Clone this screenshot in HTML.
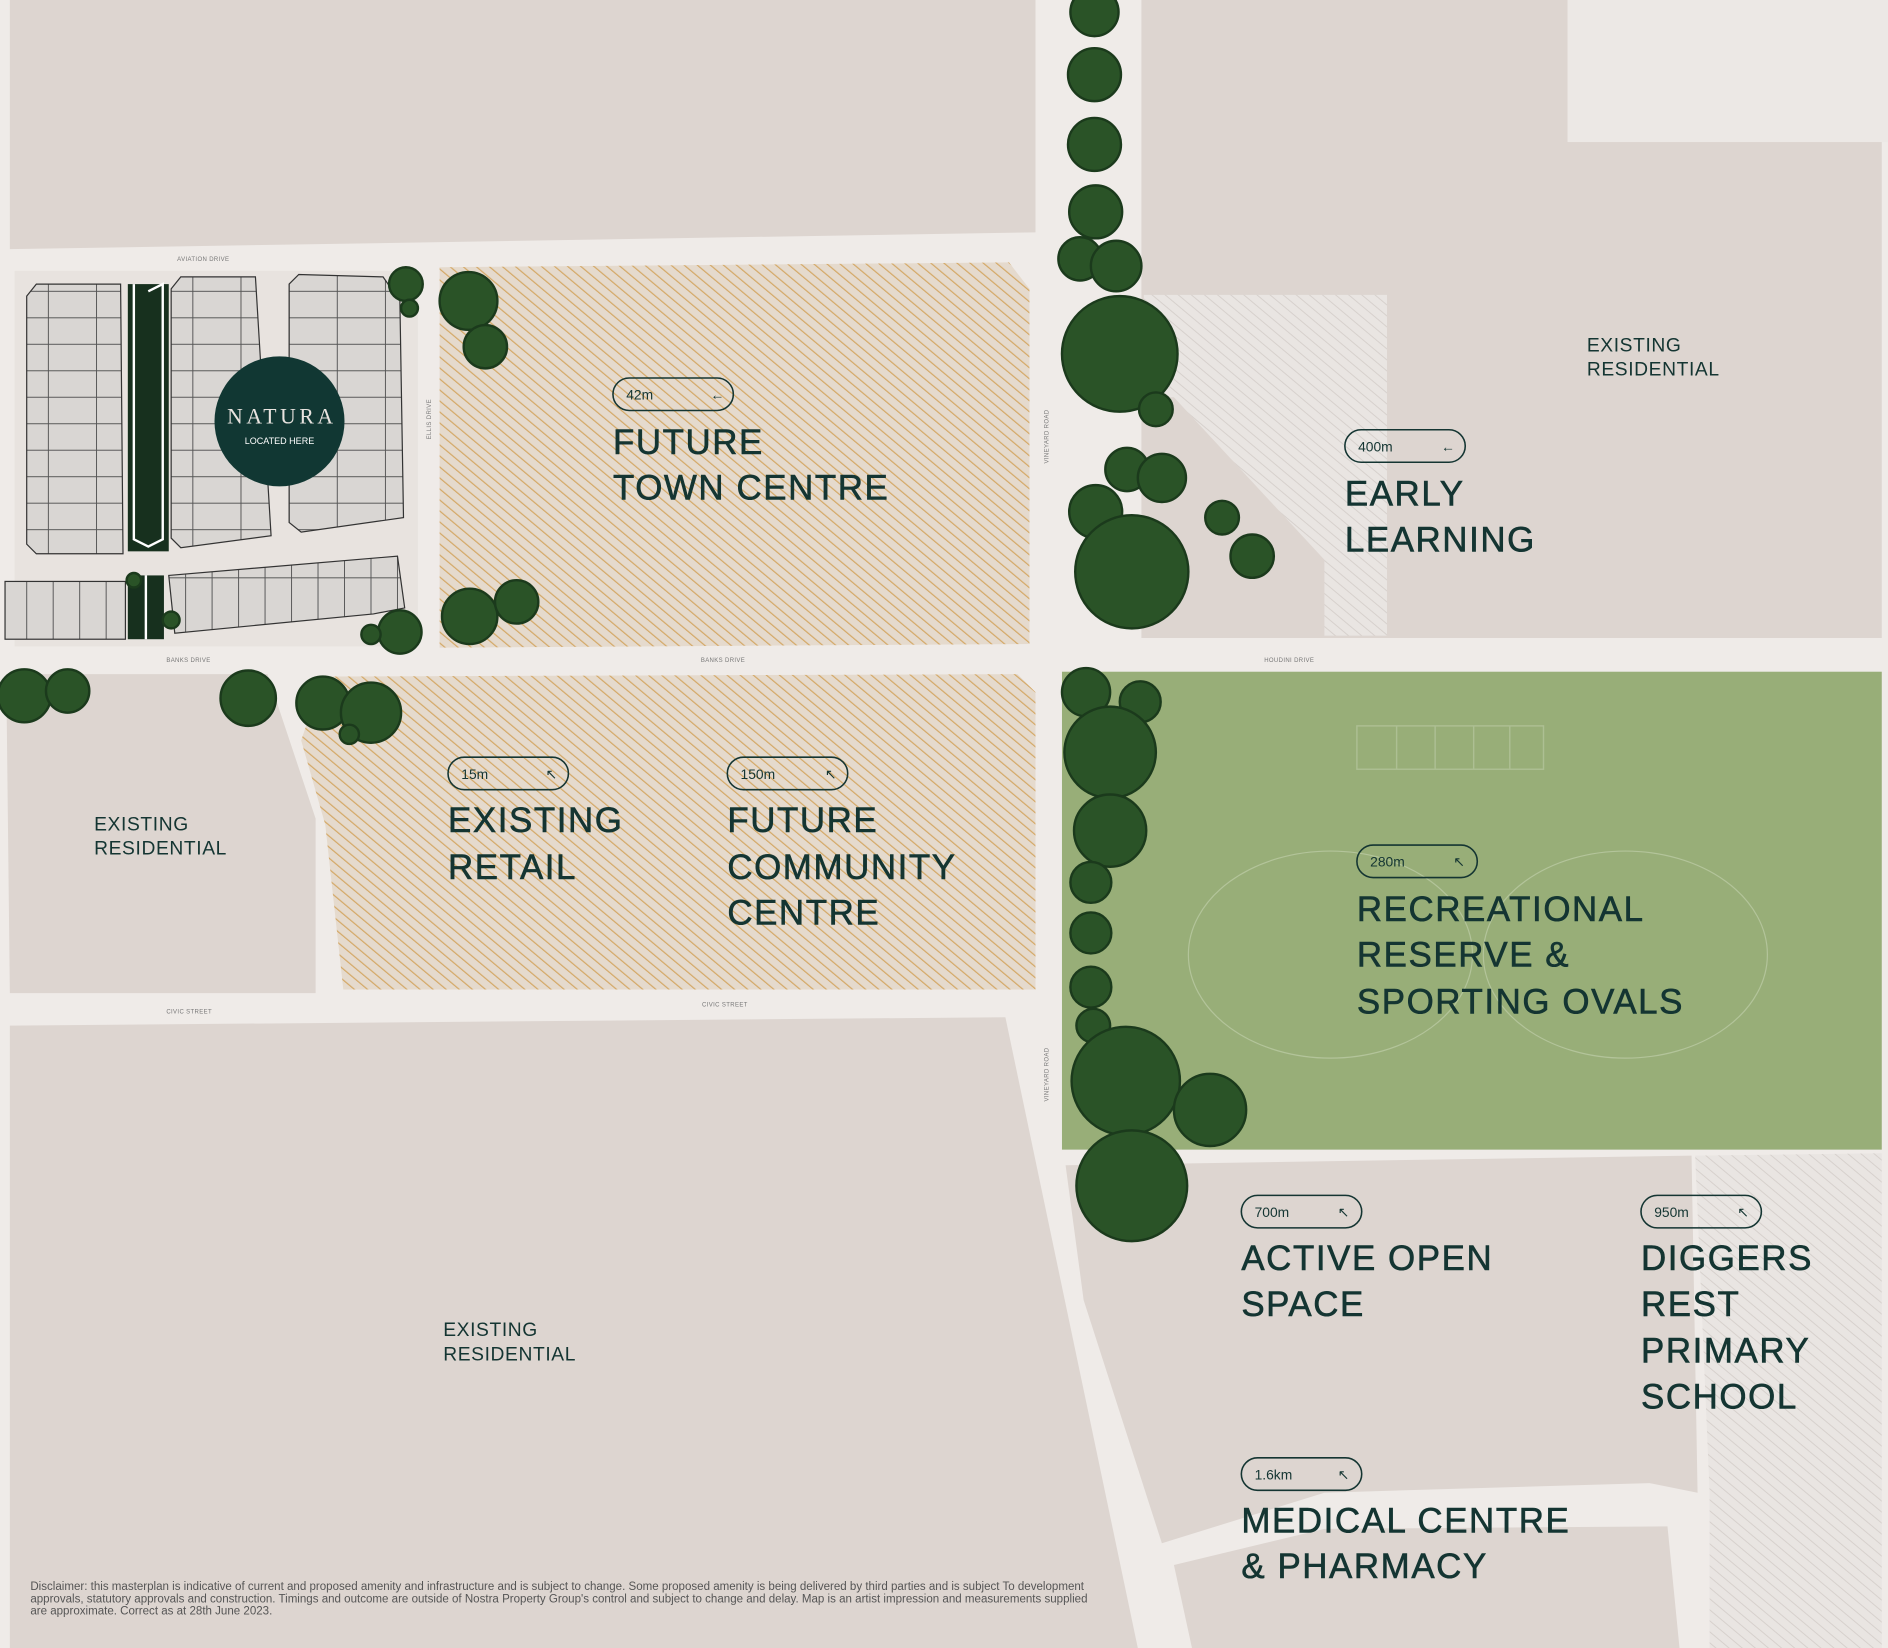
<!DOCTYPE html>
<html><head><meta charset="utf-8"><style>
html,body{margin:0;padding:0;background:#efebe8}
svg{display:block}
.lbl{font-family:"Liberation Sans",sans-serif;fill:#143532;font-size:29px;letter-spacing:1.3px;stroke:#143532;stroke-width:0.5}
.sm{font-family:"Liberation Sans",sans-serif;fill:#143532;font-size:16px;letter-spacing:.5px}
.pill{fill:none;stroke:#143532;stroke-width:1.3}
.pt{font-family:"Liberation Sans",sans-serif;fill:#143532;font-size:11.5px}
.rd{font-family:"Liberation Sans",sans-serif;fill:#777;font-size:5px;letter-spacing:.3px}
.blk{fill:#ddd5d0}
.t{fill:#2a5327;stroke:#1b3a1c;stroke-width:2}
</style></head><body>
<svg width="1888" height="1648" viewBox="0 0 1568 1369" xmlns="http://www.w3.org/2000/svg">
<defs>
<pattern id="h" width="7" height="7" patternUnits="userSpaceOnUse" patternTransform="rotate(-50)">
<rect width="7" height="7" fill="#e5dacd"/><rect width="1" height="7" fill="#d4a866"/></pattern>
<pattern id="hg" width="7" height="7" patternUnits="userSpaceOnUse" patternTransform="rotate(-50)">
<rect width="7" height="7" fill="#e9e5e2"/><rect width="0.8" height="7" fill="#d6d0cc"/></pattern>
<pattern id="hs" width="40" height="22" patternUnits="userSpaceOnUse">
<rect width="40" height="22" fill="#d9d6d3" stroke="#555" stroke-width="0.8"/></pattern>
<pattern id="vs" width="22" height="60" patternUnits="userSpaceOnUse">
<rect width="22" height="60" fill="#d9d6d3" stroke="#555" stroke-width="0.8"/></pattern>
</defs>
<rect width="1568" height="1369" fill="#efebe8"/>
<polygon class="blk" points="8,0 860,0 860,193 8,207"/>
<polygon class="blk" points="948,0 1302,0 1302,118 1563,118 1563,530 948,530"/>
<rect x="1302" y="0" width="266" height="118" fill="#ece8e5"/>
<polygon fill="url(#hg)" points="950,245 1152,245 1152,528 1100,528 1100,465 975,330 950,330"/>
<polygon fill="url(#h)" points="365,222 838,218 855,240 855,535 365,538"/>
<polygon class="blk" points="5,560 222,560 262,680 262,825 8,825"/>
<polygon fill="url(#h)" points="268,562 845,560 860,575 860,822 285,822 270,685 250,615"/>
<rect x="882" y="558" width="681" height="397" fill="#98ae78"/>
<ellipse cx="1105" cy="793" rx="118" ry="86" fill="none" stroke="#b3c49a" stroke-width="1"/>
<ellipse cx="1350" cy="793" rx="118" ry="86" fill="none" stroke="#b3c49a" stroke-width="1"/>
<g fill="none" stroke="#adbf93" stroke-width="1.2"><rect x="1127" y="603" width="155" height="36"/><line x1="1160" y1="603" x2="1160" y2="639"/><line x1="1192" y1="603" x2="1192" y2="639"/><line x1="1224" y1="603" x2="1224" y2="639"/><line x1="1254" y1="603" x2="1254" y2="639"/></g>
<polygon class="blk" points="8,852 835,845 945,1369 8,1369"/>
<polygon class="blk" points="885,968 1405,960 1410,1240 1370,1232 1100,1240 965,1282 900,1080"/>
<polygon fill="url(#hg)" points="1408,960 1563,958 1563,1369 1420,1369 1420,1240"/>
<polygon class="blk" points="975,1300 1100,1270 1385,1268 1395,1369 990,1369"/>
<rect x="12" y="225" width="335" height="312" fill="#e8e3df"/>
<polygon points="22,246 30,236 100,236 102,460 30,460 22,452" fill="url(#hs)" stroke="#333" stroke-width="1"/>
<polygon points="142,240 150,230 212,230 225,445 150,455 142,447" fill="url(#hs)" stroke="#333" stroke-width="1"/>
<polygon points="240,236 248,228 318,230 332,250 335,430 250,442 240,434" fill="url(#hs)" stroke="#333" stroke-width="1"/>
<rect x="106" y="236" width="34" height="222" fill="#17301e"/>
<polyline points="111,236 111,448 123,454 135,448 135,236 123,242" fill="none" stroke="#fff" stroke-width="2"/>
<rect x="4" y="483" width="100" height="48" fill="url(#vs)" stroke="#333" stroke-width="1"/>
<rect x="106" y="478" width="30" height="53" fill="#17301e"/><line x1="121" y1="478" x2="121" y2="531" stroke="#fff" stroke-width="2"/>
<polygon points="140,478 330,462 336,505 310,510 145,526" fill="url(#vs)" stroke="#333" stroke-width="1"/>
<circle cx="232" cy="350" r="54" fill="#113733"/>
<text x="234" y="352" text-anchor="middle" font-family="Liberation Serif,serif" font-size="18" fill="#e8e3df" letter-spacing="3">NATURA</text>
<text x="232" y="369" text-anchor="middle" font-family="Liberation Sans,sans-serif" font-size="7.5" fill="#fff">LOCATED HERE</text>
<text class="rd" x="147" y="217">AVIATION DRIVE</text>
<text class="rd" x="138" y="550">BANKS DRIVE</text>
<text class="rd" x="582" y="550">BANKS DRIVE</text>
<text class="rd" x="1050" y="550">HOUDINI DRIVE</text>
<text class="rd" x="138" y="842">CIVIC STREET</text>
<text class="rd" x="583" y="836">CIVIC STREET</text>
<text class="rd" transform="translate(358,365) rotate(-90)">ELLIS DRIVE</text>
<text class="rd" transform="translate(871,385) rotate(-90)">VINEYARD ROAD</text>
<text class="rd" transform="translate(871,915) rotate(-90)">VINEYARD ROAD</text>
<g class="t">
<circle cx="909" cy="10" r="20"/><circle cx="909" cy="62" r="22"/><circle cx="909" cy="120" r="22"/><circle cx="910" cy="176" r="22"/><circle cx="897" cy="215" r="18"/><circle cx="927" cy="221" r="21"/>
<circle cx="930" cy="294" r="48"/><circle cx="960" cy="340" r="14"/><circle cx="936" cy="390" r="18"/><circle cx="965" cy="397" r="20"/><circle cx="910" cy="425" r="22"/><circle cx="940" cy="475" r="47"/><circle cx="1015" cy="430" r="14"/><circle cx="1040" cy="462" r="18"/>
<circle cx="389" cy="250" r="24"/><circle cx="403" cy="288" r="18"/><circle cx="390" cy="512" r="23"/><circle cx="429" cy="500" r="18"/>
<circle cx="337" cy="236" r="14"/><circle cx="340" cy="256" r="7"/><circle cx="332" cy="525" r="18"/><circle cx="308" cy="527" r="8"/>
<circle cx="20" cy="578" r="22"/><circle cx="56" cy="574" r="18"/><circle cx="206" cy="580" r="23"/><circle cx="268" cy="584" r="22"/><circle cx="308" cy="592" r="25"/><circle cx="290" cy="610" r="8"/>
<circle cx="902" cy="575" r="20"/><circle cx="947" cy="583" r="17"/><circle cx="922" cy="625" r="38"/><circle cx="922" cy="690" r="30"/><circle cx="906" cy="733" r="17"/><circle cx="906" cy="775" r="17"/><circle cx="906" cy="820" r="17"/><circle cx="908" cy="852" r="14"/><circle cx="935" cy="898" r="45"/><circle cx="1005" cy="922" r="30"/><circle cx="940" cy="985" r="46"/>
<circle cx="111" cy="482" r="6"/><circle cx="142" cy="515" r="7"/>
</g>
<g>
<rect class="pill" x="509" y="314" width="100" height="27" rx="13.5"/><text class="pt" x="520" y="332">42m</text><text class="pt" x="590" y="332">←</text>
<text class="lbl" x="509" y="377">FUTURE</text><text class="lbl" x="509" y="415">TOWN CENTRE</text>
<rect class="pill" x="1117" y="357" width="100" height="27" rx="13.5"/><text class="pt" x="1128" y="375">400m</text><text class="pt" x="1197" y="375">←</text>
<text class="lbl" x="1117" y="420">EARLY</text><text class="lbl" x="1117" y="458">LEARNING</text>
<text class="sm" x="1318" y="292">EXISTING</text><text class="sm" x="1318" y="312">RESIDENTIAL</text>
<rect class="pill" x="372" y="629" width="100" height="27" rx="13.5"/><text class="pt" x="383" y="647">15m</text><text class="pt" x="453" y="647">↖</text>
<text class="lbl" x="372" y="691">EXISTING</text><text class="lbl" x="372" y="730">RETAIL</text>
<rect class="pill" x="604" y="629" width="100" height="27" rx="13.5"/><text class="pt" x="615" y="647">150m</text><text class="pt" x="685" y="647">↖</text>
<text class="lbl" x="604" y="691">FUTURE</text><text class="lbl" x="604" y="730">COMMUNITY</text><text class="lbl" x="604" y="768">CENTRE</text>
<text class="sm" x="78" y="690">EXISTING</text><text class="sm" x="78" y="710">RESIDENTIAL</text>
<rect class="pill" x="1127" y="702" width="100" height="27" rx="13.5"/><text class="pt" x="1138" y="720">280m</text><text class="pt" x="1207" y="720">↖</text>
<text class="lbl" x="1127" y="765">RECREATIONAL</text><text class="lbl" x="1127" y="803">RESERVE &amp;</text><text class="lbl" x="1127" y="842">SPORTING OVALS</text>
<rect class="pill" x="1031" y="993" width="100" height="27" rx="13.5"/><text class="pt" x="1042" y="1011">700m</text><text class="pt" x="1111" y="1011">↖</text>
<text class="lbl" x="1031" y="1055">ACTIVE OPEN</text><text class="lbl" x="1031" y="1093">SPACE</text>
<rect class="pill" x="1363" y="993" width="100" height="27" rx="13.5"/><text class="pt" x="1374" y="1011">950m</text><text class="pt" x="1443" y="1011">↖</text>
<text class="lbl" x="1363" y="1055">DIGGERS</text><text class="lbl" x="1363" y="1093">REST</text><text class="lbl" x="1363" y="1132">PRIMARY</text><text class="lbl" x="1363" y="1170">SCHOOL</text>
<rect class="pill" x="1031" y="1211" width="100" height="27" rx="13.5"/><text class="pt" x="1042" y="1229">1.6km</text><text class="pt" x="1111" y="1229">↖</text>
<text class="lbl" x="1031" y="1273">MEDICAL CENTRE</text><text class="lbl" x="1031" y="1311">&amp; PHARMACY</text>
<text class="sm" x="368" y="1110">EXISTING</text><text class="sm" x="368" y="1130">RESIDENTIAL</text>
</g>
<g font-family="Liberation Sans,sans-serif" font-size="9.6" fill="#555">
<text x="25" y="1321">Disclaimer: this masterplan is indicative of current and proposed amenity and infrastructure and is subject to change. Some proposed amenity is being delivered by third parties and is subject To development</text>
<text x="25" y="1331">approvals, statutory approvals and construction. Timings and outcome are outside of Nostra Property Group's control and subject to change and delay. Map is an artist impression and measurements supplied</text>
<text x="25" y="1341">are approximate. Correct as at 28th June 2023.</text>
</g>
</svg>
</body></html>
